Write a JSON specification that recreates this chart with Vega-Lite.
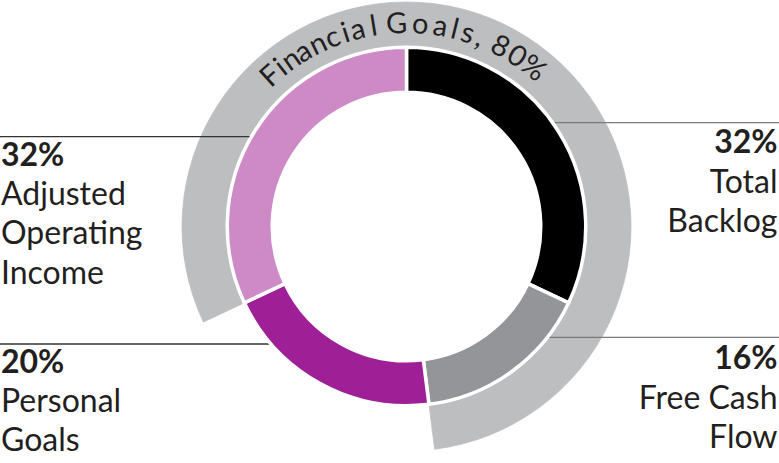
{
  "$schema": "https://vega.github.io/schema/vega-lite/v6.json",
  "autosize": "none",
  "width": 745,
  "height": 453,
  "padding": {"left": 34, "right": 0, "top": 0, "bottom": 10},
  "background": "#ffffff",
  "config": {"view": {"stroke": null}, "font": "Lato", "text": {"color": "#231F20"}},
  "datasets": {
    "segments": [
      {"segment": "Total Backlog", "value": 32, "rank": 1, "category": "Financial Goals"},
      {"segment": "Free Cash Flow", "value": 16, "rank": 2, "category": "Financial Goals"},
      {"segment": "Personal Goals", "value": 20, "rank": 3, "category": "Personal Goals"},
      {"segment": "Adjusted Operating Income", "value": 32, "rank": 4, "category": "Financial Goals"}
    ],
    "labels": [
      {"segment": "Total Backlog", "pct": "32%", "name": "Total\nBacklog", "side": "right", "tier": "upper"},
      {"segment": "Free Cash Flow", "pct": "16%", "name": "Free Cash\nFlow", "side": "right", "tier": "lower"},
      {"segment": "Personal Goals", "pct": "20%", "name": "Personal\nGoals", "side": "left", "tier": "lower"},
      {"segment": "Adjusted Operating Income", "pct": "32%", "name": "Adjusted\nOperating\nIncome", "side": "left", "tier": "upper"}
    ],
    "arcText": [
      {"ch": "F", "deg": -42.1}, {"ch": "i", "deg": -38.3}, {"ch": "n", "deg": -34.7},
      {"ch": "a", "deg": -30.6}, {"ch": "n", "deg": -25.9}, {"ch": "c", "deg": -21.4},
      {"ch": "i", "deg": -17.5}, {"ch": "a", "deg": -13.9}, {"ch": "l", "deg": -9.3},
      {"ch": "G", "deg": -2.8}, {"ch": "o", "deg": 3.9}, {"ch": "a", "deg": 9.6},
      {"ch": "l", "deg": 13.8}, {"ch": "s", "deg": 17.6}, {"ch": ",", "deg": 21.3},
      {"ch": "8", "deg": 27.5}, {"ch": "0", "deg": 33.0}, {"ch": "%", "deg": 38.7}
    ]
  },
  "layer": [
    {
      "data": {"name": "segments"},
      "mark": {"type": "arc", "radius": 224.5, "radius2": 180, "color": "#BCBEC0", "stroke": "#BCBEC0", "strokeWidth": 0.8},
      "encoding": {
        "theta": {"field": "value", "type": "quantitative", "stack": true},
        "order": {"field": "rank", "type": "quantitative"},
        "opacity": {"condition": {"test": "datum.category === 'Personal Goals'", "value": 0}, "value": 1}
      }
    },
    {
      "data": {"name": "labels"},
      "transform": [{"filter": "datum.side === 'left'"}],
      "mark": {"type": "rule", "color": "#333333", "strokeWidth": 1.3},
      "encoding": {
        "x": {"value": -34},
        "x2": {"value": 256},
        "y": {"field": "tier", "type": "nominal", "scale": {"type": "point", "domain": ["upper", "lower"], "range": [136.7, 344], "padding": 0}, "axis": null}
      }
    },
    {
      "data": {"name": "labels"},
      "transform": [{"filter": "datum.side === 'right'"}],
      "mark": {"type": "rule", "color": "#7a7a7a", "strokeWidth": 1.3},
      "encoding": {
        "x": {"value": 511},
        "x2": {"value": 745},
        "y": {"field": "tier", "type": "nominal", "scale": {"type": "point", "domain": ["upper", "lower"], "range": [122.7, 337.3], "padding": 0}, "axis": null}
      }
    },
    {
      "data": {"name": "segments"},
      "mark": {"type": "arc", "radius": 179.25, "radius2": 134.25, "stroke": "#ffffff", "strokeWidth": 3.5, "strokeJoin": "round"},
      "encoding": {
        "theta": {"field": "value", "type": "quantitative", "stack": true},
        "order": {"field": "rank", "type": "quantitative"},
        "color": {
          "field": "segment", "type": "nominal", "legend": null,
          "scale": {
            "domain": ["Total Backlog", "Free Cash Flow", "Personal Goals", "Adjusted Operating Income"],
            "range": ["#000000", "#939598", "#9E1F96", "#CE8AC6"]
          }
        }
      }
    },
    {
      "data": {"name": "arcText"},
      "mark": {"type": "text", "radius": 193.5, "fontSize": 29, "fontWeight": "normal", "baseline": "alphabetic", "align": "center", "color": "#231F20"},
      "encoding": {
        "theta": {"field": "deg", "type": "quantitative", "stack": null, "scale": {"domain": [0, 360], "range": [0, 6.283185307]}},
        "angle": {"field": "deg", "type": "quantitative", "scale": null},
        "text": {"field": "ch"}
      }
    },
    {
      "data": {"name": "labels"},
      "transform": [{"filter": "datum.side === 'left'"}],
      "mark": {"type": "text", "align": "left", "baseline": "alphabetic", "fontSize": 32, "fontWeight": "bold"},
      "encoding": {
        "x": {"value": -33},
        "y": {"field": "tier", "type": "nominal", "scale": {"type": "point", "domain": ["upper", "lower"], "range": [166, 373], "padding": 0}, "axis": null},
        "text": {"field": "pct"}
      }
    },
    {
      "data": {"name": "labels"},
      "transform": [{"filter": "datum.side === 'left'"}],
      "mark": {"type": "text", "align": "left", "baseline": "alphabetic", "fontSize": 32, "fontWeight": "normal", "lineBreak": "\n", "lineHeight": 39.5},
      "encoding": {
        "x": {"value": -33},
        "y": {"field": "tier", "type": "nominal", "scale": {"type": "point", "domain": ["upper", "lower"], "range": [204.5, 411.7], "padding": 0}, "axis": null},
        "text": {"field": "name"}
      }
    },
    {
      "data": {"name": "labels"},
      "transform": [{"filter": "datum.side === 'right'"}],
      "mark": {"type": "text", "align": "right", "baseline": "alphabetic", "fontSize": 32, "fontWeight": "bold"},
      "encoding": {
        "x": {"value": 743.5},
        "y": {"field": "tier", "type": "nominal", "scale": {"type": "point", "domain": ["upper", "lower"], "range": [153.3, 369.3], "padding": 0}, "axis": null},
        "text": {"field": "pct"}
      }
    },
    {
      "data": {"name": "labels"},
      "transform": [{"filter": "datum.side === 'right'"}],
      "mark": {"type": "text", "align": "right", "baseline": "alphabetic", "fontSize": 32, "fontWeight": "normal", "lineBreak": "\n", "lineHeight": 38.8},
      "encoding": {
        "x": {"value": 743.5},
        "y": {"field": "tier", "type": "nominal", "scale": {"type": "point", "domain": ["upper", "lower"], "range": [193.3, 409.3], "padding": 0}, "axis": null},
        "text": {"field": "name"}
      }
    }
  ],
  "resolve": {"scale": {"theta": "independent", "y": "independent", "color": "independent", "opacity": "independent"}}
}
